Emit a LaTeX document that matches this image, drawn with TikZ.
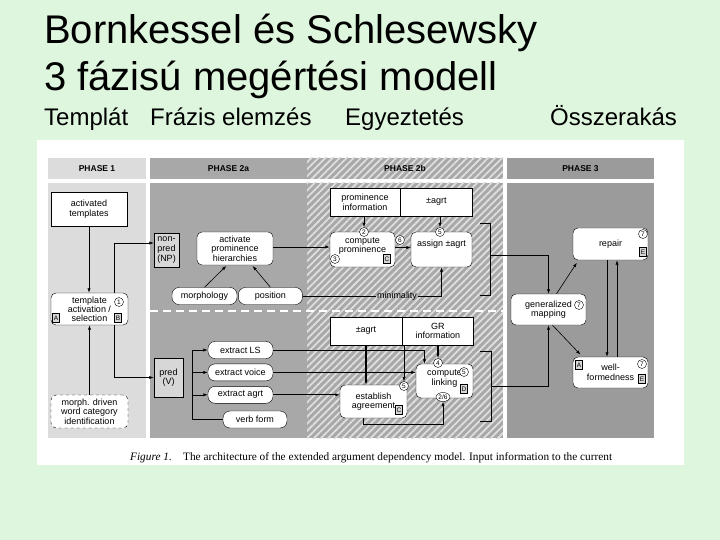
\documentclass[tikz,border=0pt]{standalone}
\usepackage{fontspec}
\setmainfont{Liberation Sans}
\newfontfamily\capfont{Liberation Serif}
\usetikzlibrary{arrows.meta,positioning,patterns.meta,shapes.geometric}

\definecolor{slidebg}{RGB}{222,246,222}
\definecolor{phaseone}{RGB}{220,220,220}
\definecolor{phasetwo}{RGB}{168,168,168}
\definecolor{hatchbg}{RGB}{168,168,168}
\definecolor{hatchln}{RGB}{222,222,222}
\definecolor{phasethree}{RGB}{155,155,155}
\definecolor{tagfill}{RGB}{215,215,215}

\newcommand{\diagfont}{\fontsize{9}{9.6}\selectfont}
\newcommand{\tagfont}{\fontsize{6.5}{7}\selectfont}
\newcommand{\headfont}{\fontsize{8.5}{9}\selectfont\bfseries}

\begin{document}
\begin{tikzpicture}[x=1pt, y=-1pt,
    infobox/.style={draw, fill=white, align=center, minimum height=28pt, inner sep=1pt,
      font=\diagfont},
    box/.style={draw, fill=white, rounded corners=5pt, align=center, inner sep=1pt,
      font=\diagfont},
    greybox/.style={draw, fill=tagfill, align=center, inner sep=1pt, font=\diagfont},
    pill/.style={box, rounded corners=7pt, minimum height=17pt},
    tag/.style={draw, fill=tagfill, inner sep=0.6pt, minimum width=7pt, minimum height=9pt,
      font=\tagfont},
    num/.style={circle, draw, fill=white, inner sep=0pt, minimum size=9pt, font=\tagfont},
    arrow/.style={-{Latex[length=4.5pt,width=3.2pt]}, line width=0.6pt},
    thickarrow/.style={arrow, line width=1.3pt}
  ]
    \useasboundingbox (0,0) rectangle (720,540);
    \fill[slidebg] (0,0) rectangle (720,540);

    % slide titles
    \node[anchor=base west, inner sep=0pt, font=\fontsize{40}{48}\selectfont] (title) at (44,44)
      {Bornkessel és Schlesewsky};
    \node[anchor=base west, inner sep=0pt, font=\fontsize{40}{48}\selectfont] (subtitle) at (44,91)
      {3 fázisú megértési modell};
    \node[anchor=base west, inner sep=0pt, font=\fontsize{24}{28}\selectfont] (lbl1) at (44,126) {Templát};
    \node[anchor=base west, inner sep=0pt, font=\fontsize{24}{28}\selectfont] (lbl2) at (150,126) {Frázis elemzés};
    \node[anchor=base west, inner sep=0pt, font=\fontsize{24}{28}\selectfont] (lbl3) at (345,126) {Egyeztetés};
    \node[anchor=base west, inner sep=0pt, font=\fontsize{24}{28}\selectfont] (lbl4) at (550,126) {Összerakás};

    % figure panels
    \fill[white] (37,140) rectangle (684,465);
    \fill[phaseone] (48,158) rectangle (146,179);
    \fill[phaseone] (48,183) rectangle (146,438);
    \fill[phasetwo] (150,158) rectangle (307,179);
    \fill[phasetwo] (150,183) rectangle (307,438);
    \fill[hatchbg] (307,158) rectangle (503,179);
    \fill[hatchbg] (307,183) rectangle (503,438);
    \fill[pattern={Lines[angle=45,distance=5pt,line width=1.8pt]}, pattern color=hatchln]
      (307,158) rectangle (503,179);
    \fill[pattern={Lines[angle=45,distance=5pt,line width=1.8pt]}, pattern color=hatchln]
      (307,183) rectangle (503,438);
    \fill[phasethree] (507,158) rectangle (654,179);
    \fill[phasethree] (507,183) rectangle (654,438);
    \draw[white, line width=1.6pt, dash pattern=on 8pt off 5pt] (150,311) -- (503,311);

    \node[font=\headfont] (h1) at (97,168.5) {PHASE 1};
    \node[font=\headfont] (h2a) at (228.5,168.5) {PHASE 2a};
    \node[font=\headfont] (h2b) at (405,168.5) {PHASE 2b};
    \node[font=\headfont] (h3) at (580.5,168.5) {PHASE 3};

    % phase 1
    \node[infobox, minimum width=76pt, minimum height=34pt] (act) at (89,209) {activated\\templates};
    \node[box, minimum width=77pt, minimum height=32pt, font=\fontsize{9}{9}\selectfont] (tmpl) at (89.5,309)
      {template\\activation /\\selection};
    \node[box, dashed, minimum width=77pt, minimum height=33pt] (morph) at (89.5,411.5)
      {morph. driven\\word category\\identification};

    % phase 2a
    \node[greybox, minimum width=25pt, minimum height=34pt] (np) at (166.5,250) {non-\\pred\\(NP)};
    \node[greybox, minimum width=29pt, minimum height=39pt] (pred) at (168.5,377.5) {pred\\(V)};
    \node[box, minimum width=76pt, minimum height=33pt] (hier) at (235,248.5)
      {activate\\prominence\\hierarchies};
    \node[pill, minimum width=65pt] (morpho) at (204.5,296) {morphology};
    \node[pill, minimum width=64pt, right=1pt of morpho] (pos) {position};
    \node[pill, minimum width=65pt] (exLS) at (240.5,350) {extract LS};
    \node[pill, minimum width=65pt, below=5pt of exLS] (exvoice) {extract voice};
    \node[pill, minimum width=65pt, below=5pt of exvoice] (exagrt) {extract agrt};
    \node[pill, minimum width=64pt] (verb) at (255,419.5) {verb form};

    % phase 2b
    \node[infobox, minimum width=70pt] (prominfo) at (365,202) {prominence\\information};
    \node[infobox, minimum width=72pt, right=0pt of prominfo] (agrta) {±agrt};
    \node[box, minimum width=65pt, minimum height=35pt, text depth=9pt] (cprom) at (362.5,249.5)
      {compute\\prominence};
    \node[box, minimum width=61pt, minimum height=35pt, text depth=12pt] (assign) at (441.5,249.5)
      {assign ±agrt};
    \node[infobox, minimum width=72pt] (agrtb) at (366,331) {±agrt};
    \node[infobox, minimum width=71pt, right=0pt of agrtb] (grinfo) {GR\\information};
    \node[box, minimum width=67pt, minimum height=33pt] (estab) at (373.5,401.5) {establish\\agreement};
    \node[box, minimum width=57pt, minimum height=34pt, text depth=7pt] (clink) at (444.5,381)
      {compute\\linking};
    \node[font=\diagfont, inner sep=1pt] (mini) at (397,296) {minimality};

    % phase 3
    \node[box, minimum width=75pt, minimum height=31pt] (genmap) at (548.5,309.5) {generalized\\mapping};
    \node[box, minimum width=75pt, minimum height=32pt] (repair) at (610.5,244) {repair};
    \node[box, minimum width=75pt, minimum height=31pt] (wellf) at (610.5,372.5) {well-\\formedness};

    % step numbers and letters
    \node[num] (c1) at (119,302) {1};
    \node[tag] (ta) at (56,318) {A};
    \node[tag] (tb) at (118,318) {B};
    \node[num] (c2) at (364,232) {2};
    \node[num] (c3) at (335,259) {3};
    \node[tag] (tc) at (387,259) {C};
    \node[num] (c6) at (400,240) {6};
    \node[num] (c5a) at (440,232) {5};
    \node[num] (c4) at (438,363) {4};
    \node[num] (c5c) at (464,372) {5};
    \node[tag] (td) at (464,389) {D};
    \node[num, ellipse, minimum width=14pt, minimum height=9pt] (c26) at (443,397) {2/6};
    \node[num] (c5b) at (404,386) {5};
    \node[tag] (tc2) at (399,410) {C};
    \node[num] (c7a) at (579,305) {7};
    \node[num] (c7b) at (643,234) {7};
    \node[tag] (te) at (643,252) {E};
    \node[tag] (ta2) at (579,365) {A};
    \node[num] (c7c) at (642,364) {7};
    \node[tag] (te2) at (642,379) {E};

    % connectors
    \draw[arrow] (act.south) -- (act.south |- tmpl.north);
    \draw[arrow] (morph.north) -- (morph.north |- tmpl.south);
    \draw[arrow] ([xshift=25pt]tmpl.north) |- ([yshift=7pt]np.west);
    \draw[arrow] ([xshift=25pt]tmpl.south) |- (pred.west);
    \draw[arrow, shorten >=1pt] (morpho.north) -- ([xshift=-8pt]hier.south);
    \draw[arrow, shorten >=1pt] (pos.north) -- ([xshift=17pt]hier.south);
    \draw[arrow] ([yshift=1.5pt]hier.east) -- ([yshift=1.5pt]hier.east -| cprom.west);
    \draw[arrow] (prominfo.south -| c2) -- (c2);
    \draw[arrow] (agrta.south -| c5a) -- (c5a);
    \draw[arrow] ([yshift=2pt]cprom.east) -- ([yshift=2pt]cprom.east -| assign.west);
    \draw (pos.east) -- (mini.west);
    \draw[arrow] (mini.east) -| (assign.south);

    \coordinate (fan) at (192,350);
    \draw (fan) -- (fan |- verb.west) -- (verb.west);
    \draw[arrow] (fan) -- (exLS.west);
    \draw[arrow] (fan |- exvoice.west) -- (exvoice.west);
    \draw[arrow] (fan |- exagrt.west) -- (exagrt.west);
    \draw[arrow] (exLS.east) -| ([xshift=-20pt]clink.north);
    \draw[arrow] (exvoice.east) -- (exvoice.east -| clink.west);
    \draw[thickarrow] (exagrt.east) -- (exagrt.east -| estab.west);
    \draw[thickarrow] (agrtb.south) -- (agrtb.south |- estab.north);
    \draw[arrow] (grinfo.south -| c5b) -- (c5b);
    \draw[thickarrow] (grinfo.south -| c4) -- (c4);
    \draw[arrow] ([xshift=-10pt]estab.south) -- ++(0,6) -| (c26.south);

    % brackets into phase 3
    \draw[line width=0.9pt] (480,223) -| (490,295) -- (480,295);
    \draw[line width=0.9pt] (480,351) -| (491,421) -- (480,421);
    \coordinate (brup) at (490,255);
    \coordinate (brlo) at (491,386);
    \draw[arrow] (brup) -| (genmap.north);
    \draw[arrow] (brlo) -| (genmap.south);
    \draw[arrow, shorten >=3pt] ([xshift=8pt]genmap.north) -- ([xshift=-32pt]repair.south);
    \draw[arrow, shorten >=3pt] ([xshift=4pt]genmap.south) -- ([xshift=-28pt]wellf.north);
    \draw[arrow] ([xshift=-3.5pt]repair.south) -- ([xshift=-3.5pt]wellf.north);
    \draw[arrow] ([xshift=6.5pt]wellf.north) -- ([xshift=6.5pt]repair.south);

    % caption
    \node[anchor=base west, inner sep=0pt, font=\capfont\fontsize{11.3}{13}\selectfont] (cap) at (130,460)
      {\textit{Figure 1.}\quad The architecture of the extended argument dependency model. Input information to the current};
  \end{tikzpicture}
\end{document}
